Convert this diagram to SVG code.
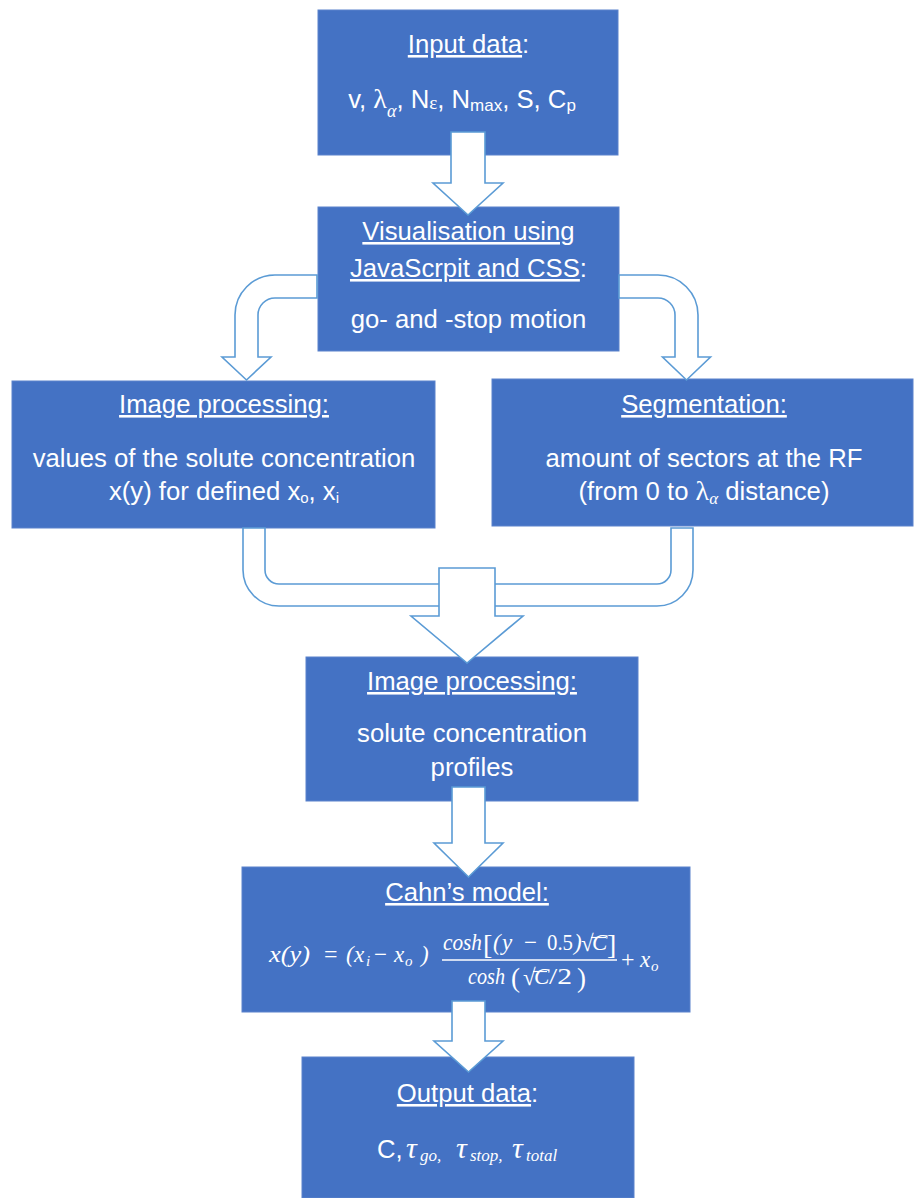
<svg xmlns="http://www.w3.org/2000/svg" width="914" height="1198" viewBox="0 0 914 1198">
<style>
.box{fill:#4472C4;stroke:#5A82CC;stroke-width:1}
.arr{fill:#fff;stroke:#5B9BD5;stroke-width:1.6;stroke-linejoin:miter}
.t{font-family:"Liberation Sans",Arial,sans-serif;font-size:25.7px;fill:#fff}
.s{font-family:"Liberation Serif","Times New Roman",serif}
.mi{font-family:"Liberation Serif","Times New Roman",serif;font-style:italic;fill:#fff}
.m{font-family:"Liberation Serif","Times New Roman",serif;fill:#fff}
.u{text-decoration:underline}
</style>
<rect width="914" height="1198" fill="#fff"/>

<g id="input">
<rect class="box" x="318" y="10" width="300" height="145"/>
<text class="t" x="468.5" y="53" text-anchor="middle"><tspan class="u">Input data</tspan>:</text>
<text class="t" x="462" y="108" text-anchor="middle">v, <tspan class="s" font-size="28">λ</tspan><tspan class="s" font-style="italic" font-size="18" dy="9">α</tspan><tspan dy="-9">, N</tspan><tspan class="s" font-size="19" dy="1">ε</tspan><tspan dy="-1">, N</tspan><tspan font-size="17" dy="3">max</tspan><tspan dy="-3">, S, C</tspan><tspan font-size="17" dy="3">p</tspan></text>
</g>

<g id="visualisation">
<rect class="box" x="318" y="207" width="301" height="144"/>
<text class="t" x="468.5" y="240" text-anchor="middle"><tspan class="u">Visualisation using</tspan></text>
<text class="t" x="468.5" y="277" text-anchor="middle"><tspan class="u">JavaScrpit and CSS</tspan>:</text>
<text class="t" x="468.5" y="328" text-anchor="middle">go- and -stop motion</text>
</g>

<g id="imageproc1">
<rect class="box" x="12" y="381" width="423" height="147"/>
<text class="t" x="224" y="413" text-anchor="middle"><tspan class="u">Image processing:</tspan></text>
<text class="t" x="224" y="467" text-anchor="middle">values of the solute concentration</text>
<text class="t" x="224" y="500" text-anchor="middle">x(y) for defined x<tspan font-size="15" dy="3">o</tspan><tspan dy="-3">, x</tspan><tspan font-size="15" dy="3">i</tspan></text>
</g>

<g id="segmentation">
<rect class="box" x="492" y="379" width="421" height="147"/>
<text class="t" x="704" y="413" text-anchor="middle"><tspan class="u">Segmentation:</tspan></text>
<text class="t" x="704" y="467" text-anchor="middle">amount of sectors at the RF</text>
<text class="t" x="704" y="500" text-anchor="middle">(from 0 to <tspan class="s" font-size="28">λ</tspan><tspan class="s" font-style="italic" font-size="17" dy="4">α</tspan><tspan dy="-4"> distance)</tspan></text>
</g>

<g id="imageproc2">
<rect class="box" x="306" y="657" width="332" height="144"/>
<text class="t" x="472" y="690" text-anchor="middle"><tspan class="u">Image processing:</tspan></text>
<text class="t" x="472" y="742" text-anchor="middle">solute concentration</text>
<text class="t" x="472" y="776" text-anchor="middle">profiles</text>
</g>

<g id="cahn">
<rect class="box" x="242" y="867" width="448" height="145"/>
<text class="t" x="467" y="901" text-anchor="middle"><tspan class="u">Cahn’s model:</tspan></text>
<g font-size="23">
<text class="mi" x="269" y="962" textLength="41" lengthAdjust="spacingAndGlyphs">x(y)</text>
<text class="m" x="324" y="962" font-size="24">=</text>
<text class="mi" x="346" y="962">(</text>
<text class="mi" x="354" y="962">x</text>
<text class="mi" x="366" y="966" font-size="15">i</text>
<text class="m" x="374" y="962">−</text>
<text class="mi" x="394" y="962">x</text>
<text class="mi" x="405" y="966" font-size="15">o</text>
<text class="mi" x="421" y="962">)</text>
<text class="mi" x="443" y="950" textLength="39" lengthAdjust="spacingAndGlyphs">cosh</text>
<text class="m" x="483" y="954" font-size="28">[</text>
<text class="mi" x="493" y="950">(</text>
<text class="mi" x="502" y="950">y</text>
<text class="m" x="524" y="950">−</text>
<text class="m" x="547" y="950" textLength="26" lengthAdjust="spacingAndGlyphs">0.5</text>
<text class="mi" x="574" y="950">)</text>
<text class="m" x="581" y="951">√</text>
<line x1="591" y1="937.5" x2="606" y2="937.5" stroke="#fff" stroke-width="1.2"/>
<text class="mi" x="592" y="950">C</text>
<text class="m" x="607" y="954" font-size="28">]</text>
<line x1="442" y1="960" x2="617" y2="960" stroke="#fff" stroke-width="1.3"/>
<text class="mi" x="468" y="984" textLength="37" lengthAdjust="spacingAndGlyphs">cosh</text>
<text class="m" x="511" y="987" font-size="27">(</text>
<text class="m" x="523" y="985">√</text>
<line x1="533" y1="971.5" x2="547" y2="971.5" stroke="#fff" stroke-width="1.2"/>
<text class="mi" x="534" y="984">C</text>
<text class="m" x="549" y="984" textLength="23" lengthAdjust="spacingAndGlyphs">/2</text>
<text class="m" x="577" y="987" font-size="27">)</text>
<text class="m" x="621" y="967" font-size="24">+</text>
<text class="mi" x="640" y="967">x</text>
<text class="mi" x="651" y="971" font-size="15">o</text>
</g>
</g>

<g id="output">
<rect class="box" x="302" y="1057" width="332" height="141"/>
<text class="t" x="467.5" y="1102" text-anchor="middle"><tspan class="u">Output data</tspan>:</text>
<text class="t" x="377" y="1158">C,</text>
<text class="mi" y="1158" font-size="30"><tspan x="406">τ</tspan><tspan x="420" font-size="17" dy="3">go</tspan><tspan font-size="17">,</tspan><tspan x="456" dy="-3">τ</tspan><tspan x="470" font-size="17" dy="3">stop</tspan><tspan font-size="17">,</tspan><tspan x="512" dy="-3">τ</tspan><tspan x="526" font-size="17" dy="3">total</tspan></text>
</g>

<g id="connectors">
<path class="arr" d="M451,132 H485 V183 H503 L468,215 L433,183 H451 Z"/>
<path class="arr" d="M317,275 H275 A40,40 0 0 0 235,315 V357 H222 L246.5,380 L271,357 H258 V315 A17,17 0 0 1 275,298 H317 Z"/>
<path class="arr" d="M619,275 H658 A40,40 0 0 1 698,315 V357 H710.5 L686.5,380 L662.5,357 H675 V315 A17,17 0 0 0 658,298 H619 Z"/>
<path class="arr" d="M243,528 V570 A36,36 0 0 0 279,606 H657 A36,36 0 0 0 693,570 V528 H671 V570 A14,14 0 0 1 657,584 H279 A14,14 0 0 1 265,570 V528 Z"/>
<path class="arr" d="M439,568 H495 V616 H523 L467,663 L411,616 H439 Z"/>
<path class="arr" d="M452,787 H485 V843 H503 L468.5,877 L434,843 H452 Z"/>
<path class="arr" d="M452,1001 H485 V1041 H503 L468.5,1072 L434,1041 H452 Z"/>
</g>
</svg>
